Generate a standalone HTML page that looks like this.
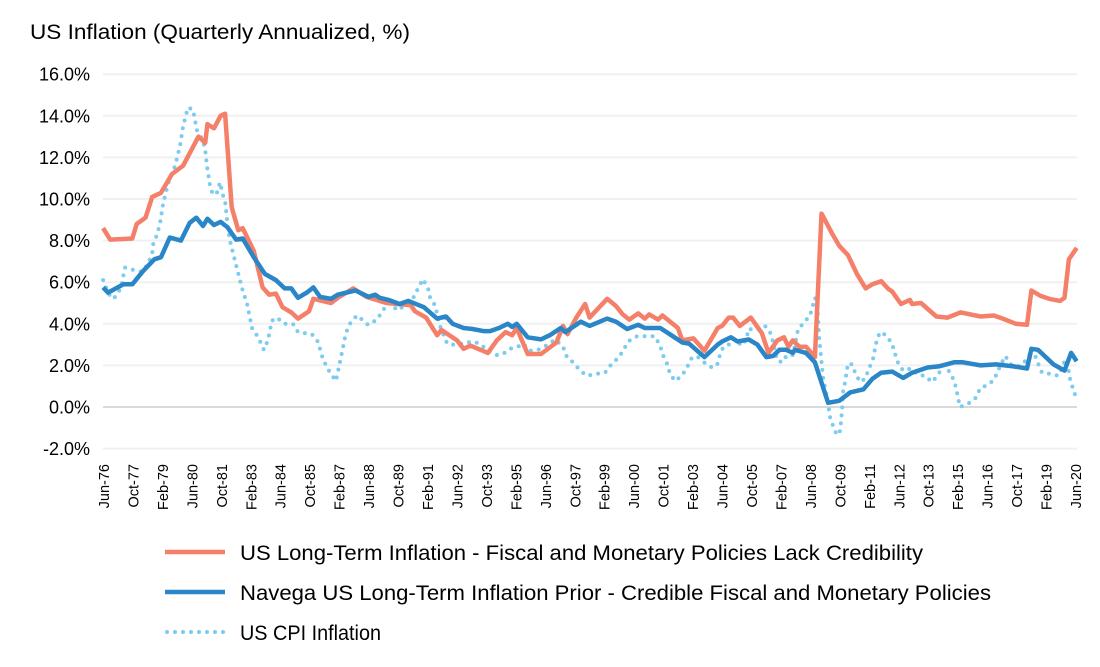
<!DOCTYPE html>
<html><head><meta charset="utf-8"><style>
body{margin:0;background:#fff;}
svg text{font-family:"Liberation Sans",Arial,sans-serif;fill:#000;}
</style></head><body>
<svg id="chart" width="1100" height="662" viewBox="0 0 1100 662" xmlns="http://www.w3.org/2000/svg">
<text x="30" y="39" font-size="21" textLength="380" lengthAdjust="spacingAndGlyphs">US Inflation (Quarterly Annualized, %)</text>
<g id="grid"></g><g id="yticks"></g><g id="xticks"></g><g id="series"></g>
<g id="legend">
<line x1="165" y1="552" x2="225" y2="552" stroke="#f4806a" stroke-width="4.5"/>
<text x="240" y="560" font-size="21" textLength="683" lengthAdjust="spacingAndGlyphs">US Long-Term Inflation - Fiscal and Monetary Policies Lack Credibility</text>
<line x1="165" y1="592" x2="225" y2="592" stroke="#2a86c6" stroke-width="4.5"/>
<text x="240" y="600" font-size="21" textLength="751" lengthAdjust="spacingAndGlyphs">Navega US Long-Term Inflation Prior - Credible Fiscal and Monetary Policies</text>
<line x1="167" y1="632" x2="225" y2="632" stroke="#7ccbf0" stroke-width="4" stroke-linecap="round" stroke-dasharray="0 8"/>
<text x="240" y="640" font-size="21" textLength="141" lengthAdjust="spacingAndGlyphs">US CPI Inflation</text>
</g>
</svg>
<script>
const yTicks=[-2,0,2,4,6,8,10,12,14,16];
const xLabels=["Jun-76","Oct-77","Feb-79","Jun-80","Oct-81","Feb-83","Jun-84","Oct-85","Feb-87","Jun-88","Oct-89","Feb-91","Jun-92","Oct-93","Feb-95","Jun-96","Oct-97","Feb-99","Jun-00","Oct-01","Feb-03","Jun-04","Oct-05","Feb-07","Jun-08","Oct-09","Feb-11","Jun-12","Oct-13","Feb-15","Jun-16","Oct-17","Feb-19","Jun-20"];
const redDates=[1976.38,1976.7,1977.7,1977.9,1978.3,1978.6,1979.0,1979.5,1980.0,1980.3,1980.7,1981.0,1981.1,1981.4,1981.7,1981.9,1982.2,1982.5,1982.7,1983.2,1983.6,1983.9,1984.2,1984.5,1984.9,1985.2,1985.7,1985.9,1986.7,1987.0,1987.7,1988.3,1989.2,1990.3,1990.5,1991.0,1991.5,1991.7,1992.4,1992.7,1993.0,1993.8,1994.2,1994.6,1994.9,1995.1,1995.6,1996.2,1996.9,1997.2,1997.4,1997.8,1998.2,1998.4,1999.2,1999.6,1999.9,2000.2,2000.6,2000.9,2001.1,2001.5,2001.7,2002.4,2002.6,2003.1,2003.6,2004.2,2004.4,2004.7,2004.9,2005.2,2005.7,2006.2,2006.5,2006.9,2007.2,2007.4,2007.6,2007.9,2008.2,2008.6,2008.9,2009.4,2009.7,2010.1,2010.5,2010.9,2011.2,2011.6,2011.9,2012.1,2012.5,2012.9,2013.0,2013.4,2014.1,2014.6,2015.2,2016.1,2016.7,2017.1,2017.7,2018.2,2018.4,2018.8,2019.2,2019.7,2019.9,2020.1,2020.45];
const redValues=[8.6,8.05,8.1,8.8,9.1,10.1,10.3,11.2,11.6,12.2,13.0,12.7,13.6,13.4,14.0,14.1,9.6,8.5,8.6,7.5,5.75,5.4,5.45,4.8,4.55,4.25,4.6,5.2,5.0,5.25,5.7,5.3,5.0,4.9,4.6,4.3,3.45,3.7,3.2,2.8,2.95,2.6,3.2,3.6,3.45,3.8,2.55,2.55,3.1,3.9,3.5,4.3,4.95,4.3,5.2,4.85,4.45,4.2,4.5,4.25,4.45,4.2,4.4,3.8,3.2,3.3,2.7,3.8,3.9,4.3,4.3,3.9,4.3,3.55,2.6,3.2,3.35,2.9,3.2,2.9,2.9,2.4,9.3,8.3,7.75,7.3,6.4,5.7,5.9,6.05,5.7,5.55,4.95,5.15,4.95,5.0,4.35,4.3,4.55,4.35,4.4,4.25,4.0,3.95,5.6,5.35,5.2,5.1,5.25,7.1,7.65];
const blueDates=[1976.38,1976.6,1977.3,1977.7,1978.2,1978.7,1979.0,1979.4,1979.9,1980.3,1980.6,1980.9,1981.1,1981.4,1981.7,1982.0,1982.4,1982.7,1983.2,1983.7,1984.2,1984.6,1984.9,1985.2,1985.6,1985.9,1986.2,1986.7,1987.0,1987.8,1988.4,1988.7,1988.9,1989.3,1989.8,1990.2,1990.9,1991.5,1991.9,1992.2,1992.7,1993.1,1993.6,1993.9,1994.3,1994.7,1994.9,1995.1,1995.6,1996.2,1996.6,1997.1,1997.3,1998.0,1998.4,1999.2,1999.6,2000.1,2000.6,2000.9,2001.6,2002.1,2002.6,2002.9,2003.6,2004.2,2004.4,2004.8,2005.1,2005.6,2006.0,2006.4,2006.7,2007.0,2007.3,2007.6,2007.7,2008.2,2008.6,2009.2,2009.7,2010.2,2010.8,2011.2,2011.6,2012.1,2012.6,2013.0,2013.7,2014.2,2014.9,2015.3,2016.1,2016.8,2017.6,2018.2,2018.4,2018.7,2019.4,2019.9,2020.2,2020.45];
const blueValues=[5.75,5.5,5.9,5.9,6.55,7.1,7.2,8.15,8.0,8.85,9.1,8.7,9.05,8.75,8.9,8.65,8.05,8.1,7.2,6.4,6.1,5.7,5.7,5.25,5.5,5.75,5.3,5.2,5.4,5.6,5.3,5.4,5.25,5.15,4.95,5.1,4.8,4.25,4.35,4.0,3.8,3.75,3.65,3.65,3.8,4.0,3.85,4.0,3.35,3.25,3.45,3.8,3.6,4.1,3.9,4.25,4.1,3.75,3.95,3.8,3.8,3.45,3.1,3.05,2.4,3.0,3.15,3.35,3.15,3.25,3.0,2.4,2.45,2.75,2.75,2.6,2.75,2.6,2.15,0.2,0.3,0.7,0.85,1.35,1.65,1.7,1.4,1.65,1.9,1.95,2.15,2.15,2.0,2.05,1.95,1.85,2.8,2.75,2.05,1.75,2.6,2.2];
const cpiDates=[1976.38,1976.6,1976.8,1977.0,1977.2,1977.37,1977.7,1978.15,1978.42,1978.6,1978.65,1978.83,1978.96,1979.1,1979.32,1979.64,1979.86,1980.0,1980.22,1980.45,1980.63,1980.85,1980.99,1981.08,1981.22,1981.35,1981.53,1981.67,1981.8,1981.9,1982.03,1982.12,1982.44,1982.67,1982.9,1983.12,1983.4,1983.66,1983.84,1984.02,1984.25,1984.57,1984.97,1985.2,1985.83,1986.1,1986.33,1986.65,1986.92,1987.1,1987.37,1987.55,1987.87,1988.1,1988.37,1988.78,1989.05,1989.28,1989.73,1990.05,1990.27,1990.5,1990.63,1990.86,1991.09,1991.18,1991.4,1991.63,1991.95,1992.22,1992.67,1993.08,1993.44,1993.8,1994.21,1994.48,1994.8,1995.16,1995.39,1995.7,1996.07,1996.52,1996.84,1997.2,1997.38,1997.65,1997.97,1998.29,1998.74,1999.1,1999.42,1999.69,1999.92,2000.14,2000.55,2000.91,2001.36,2001.59,2001.72,2001.9,2002.04,2002.27,2002.58,2002.81,2003.04,2003.31,2003.58,2003.94,2004.17,2004.3,2004.44,2004.67,2004.89,2005.3,2005.53,2005.57,2005.98,2006.34,2006.57,2006.7,2006.89,2007.11,2007.34,2007.61,2007.84,2008.06,2008.38,2008.61,2008.7,2008.74,2008.79,2008.88,2008.97,2009.06,2009.15,2009.29,2009.42,2009.6,2009.74,2009.83,2009.87,2009.96,2010.1,2010.28,2010.42,2010.64,2010.87,2011.05,2011.23,2011.32,2011.41,2011.55,2011.82,2012.09,2012.23,2012.36,2012.59,2012.95,2013.27,2013.59,2013.9,2014.18,2014.4,2014.63,2014.86,2014.99,2015.08,2015.17,2015.53,2015.9,2016.08,2016.39,2016.71,2016.89,2017.21,2017.52,2017.8,2018.11,2018.34,2018.56,2018.7,2018.88,2019.24,2019.61,2019.83,2019.92,2020.06,2020.15,2020.28,2020.42];
const cpiValues=[6.1,5.5,5.2,5.35,5.8,6.7,6.6,6.5,6.9,7.4,7.85,8.3,8.85,9.8,10.75,11.6,12.55,13.5,14.4,14.3,13.3,12.9,12.45,11.6,10.65,10.2,10.3,10.8,10.2,9.9,8.6,8.0,6.65,5.7,4.95,3.8,3.35,2.75,3.2,4.15,4.3,4.0,4.0,3.6,3.5,3.15,2.3,1.65,1.25,2.15,3.55,4.0,4.4,4.2,3.95,4.2,4.65,5.0,4.65,4.9,5.1,5.35,5.7,6.15,5.7,5.25,4.9,3.9,3.05,3.0,3.05,3.15,3.05,2.7,2.5,2.55,2.8,2.9,3.05,2.7,2.75,3.0,3.25,2.9,2.4,2.15,1.75,1.5,1.6,1.65,2.1,2.35,2.7,3.15,3.4,3.4,3.4,2.95,2.5,2.1,1.6,1.25,1.5,1.9,2.4,2.4,2.15,1.9,2.0,2.5,2.85,2.95,3.3,2.95,3.3,3.75,3.7,3.9,3.6,3.15,2.25,2.15,2.5,2.5,3.75,4.0,4.4,5.25,4.9,4.3,3.35,2.4,1.4,0.95,0.45,-0.5,-0.9,-1.35,-1.15,-0.15,0.7,1.15,2.1,2.05,1.65,1.2,1.35,1.85,2.3,2.8,3.25,3.6,3.45,3.05,2.55,2.15,1.75,1.85,1.55,1.5,1.2,1.55,2.0,1.8,1.35,0.95,0.45,0.0,0.15,0.45,0.9,1.05,1.3,1.75,2.45,2.0,1.95,2.2,2.55,2.5,2.1,1.65,1.6,1.5,1.95,2.3,1.9,1.35,0.9,0.45];

const NS="http://www.w3.org/2000/svg";
const X0=104,X1=1076,Y0=407,PX2=41.6,T0=1976.42,T1=2020.42;
function xOf(t){return X0+(t-T0)/(T1-T0)*(X1-X0);}
function yOf(v){return Y0-v/2*PX2;}
function mk(tag,attrs,parent){const e=document.createElementNS(NS,tag);for(const k in attrs)e.setAttribute(k,attrs[k]);parent.appendChild(e);return e;}
const grid=document.getElementById('grid'),yt=document.getElementById('yticks'),xt=document.getElementById('xticks'),sg=document.getElementById('series');
yTicks.forEach(v=>{
  const l=mk('line',{x1:X0-1,x2:X1+1,y1:yOf(v),y2:yOf(v),stroke:v===0?'#d9d9d9':'#f0f0f0','stroke-width':2},grid);
  
  
  const t=mk('text',{x:90,y:yOf(v)+6.5,'text-anchor':'end','font-size':18},yt);
  t.textContent=v.toFixed(1)+'%';
  
  
});
xLabels.forEach((s,i)=>{
  const x=X0+i*(X1-X0)/(xLabels.length-1);
  const t=mk('text',{x:0,y:0,'text-anchor':'end','font-size':14.5,transform:`translate(${x+5},464) rotate(-90)`},xt);
  t.textContent=s;
  
  
});
function path(d,v){return d.map((t,i)=>(i?'L':'M')+xOf(t).toFixed(1)+','+yOf(v[i]).toFixed(1)).join('');}
const pr=mk('path',{d:path(redDates,redValues),fill:'none',stroke:'#f4806a','stroke-width':4.5,'stroke-linejoin':'round'},sg);


const pb=mk('path',{d:path(blueDates,blueValues),fill:'none',stroke:'#2a86c6','stroke-width':4.5,'stroke-linejoin':'round'},sg);


const pc=mk('path',{d:path(cpiDates,cpiValues),fill:'none',stroke:'#7ccbf0','stroke-width':4,'stroke-linecap':'round','stroke-dasharray':'0 8'},sg);


sg.insertBefore(pc,pr);
</script>
</body></html>
